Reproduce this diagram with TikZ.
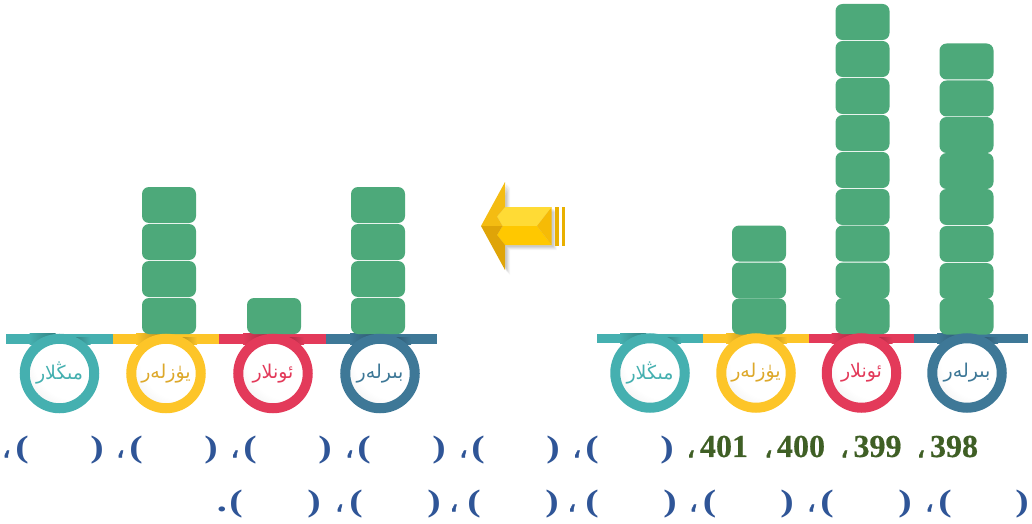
\documentclass[tikz,border=0pt]{standalone}
\usepackage{fontspec}
\setmainfont{Liberation Serif}
\newfontfamily\heavy{Liberation Serif}[BoldFeatures={FakeBold=0.5}]
\newfontfamily\arabicfont[Script=Arabic]{DejaVu Sans}
\newfontfamily\commafont[Script=Arabic,FakeBold=2]{DejaVu Sans}
\TeXXeTstate=1
\definecolor{cgreen}{HTML}{4DA97A}
\definecolor{cteal}{HTML}{45B0B0}
\definecolor{cyellow}{HTML}{FDC528}
\definecolor{cred}{HTML}{E33A5A}
\definecolor{cblue}{HTML}{3E7897}
\definecolor{tgold}{HTML}{DDA82A}
\definecolor{numgreen}{HTML}{3F5F25}
\definecolor{parblue}{HTML}{2F5597}
\definecolor{aA}{HTML}{FFDB35}
\definecolor{aB}{HTML}{FFC800}
\definecolor{aC}{HTML}{F6BB06}
\definecolor{aD}{HTML}{F4BC12}
\definecolor{aE}{HTML}{DFA408}
\definecolor{aF}{HTML}{E9B000}
\pgfdeclareradialshading{discshade}{\pgfpoint{18bp}{18bp}}{color(0bp)=(white); color(30bp)=(white); color(42bp)=(black!7); color(60bp)=(black!30); color(80bp)=(black!35)}
\newcommand{\widen}[1]{\scalebox{1.3}[1]{#1}}
\tikzset{
  cube/.style={fill=cgreen,rounded corners=7pt,minimum width=54pt,minimum height=36pt,inner sep=0pt},
  ring/.style={circle,minimum size=69.5pt,inner sep=0pt,line width=10pt,draw=#1,shading=discshade},
  lbl/.style={font=\arabicfont\fontsize{19}{21}\selectfont,text=#1},
  numtxt/.style={font=\heavy\bfseries\fontsize{32}{34}\selectfont,text=numgreen,inner sep=0pt},
  numcomma/.style={font=\commafont\fontsize{28}{29}\selectfont,text=numgreen,inner sep=0pt},
  par/.style={font=\bfseries\fontsize{31}{33}\selectfont,text=parblue,inner sep=0pt},
  parcomma/.style={font=\commafont\fontsize{28}{29}\selectfont,text=parblue,inner sep=0pt},
}
\newcommand{\barseg}[4]{%
  \fill[#3] (#1,333.5) rectangle (#2,#4);}
\newcommand{\ringshadow}[3]{%
  \shade[left color=#2,right color=#2!72!black] (#1-30,333.5) rectangle (#1-4,#3);
  \shade[left color=#2!72!black,right color=#2] (#1+14,337.5) rectangle (#1+31,#3);}
\begin{document}
\begin{tikzpicture}[x=1pt,y=-1pt]
\useasboundingbox (0,0) rectangle (1032,524);
% bars
\barseg{597}{703}{cteal}{343}
\barseg{703}{808.5}{cyellow}{343}
\barseg{808.5}{914}{cred}{343}
\barseg{914}{1028}{cblue}{343}
\barseg{6}{113}{cteal}{344}
\barseg{113}{219}{cyellow}{344}
\barseg{219}{326}{cred}{344}
\barseg{326}{437}{cblue}{344}
\ringshadow{650}{cteal}{343}
\ringshadow{756}{cyellow}{343}
\ringshadow{861.5}{cred}{343}
\ringshadow{967}{cblue}{343}
\ringshadow{59.5}{cteal}{344}
\ringshadow{166}{cyellow}{344}
\ringshadow{273}{cred}{344}
\ringshadow{380}{cblue}{344}
% right stacks
\foreach \i/\y in {1/243.5,2/280.5,3/316.5}
  \node[cube] (ra\i) at (759,\y) {};
\foreach \i/\y in {1/22,2/59,3/96,4/133,5/170,6/207,7/243.5,8/280.5,9/316}
  \node[cube] (rb\i) at (862.5,\y) {};
\foreach \i/\y in {1/61.5,2/98.5,3/135,4/171,5/207,6/244,7/281,8/316.5}
  \node[cube] (rc\i) at (966.5,\y) {};
% left stacks
\foreach \i/\y in {1/205,2/242,3/279,4/316}
  \node[cube] (la\i) at (169,\y) {};
\node[cube] (lb1) at (274,316) {};
\foreach \i/\y in {1/205,2/242,3/279,4/316}
  \node[cube] (lc\i) at (378,\y) {};
% rings right
\node[ring=cteal,lbl=cteal] (r1) at (650,373) {\beginR مىڭلار\endR};
\node[ring=cyellow,lbl=tgold] (r2) at (756,373) {\beginR يۈزلەر\endR};
\node[ring=cred,lbl=cred] (r3) at (861.5,373) {\beginR ئونلار\endR};
\node[ring=cblue,lbl=cblue] (r4) at (967,373) {\beginR بىرلەر\endR};
% rings left
\node[ring=cteal,lbl=cteal] (l1) at (59.5,373.5) {\beginR مىڭلار\endR};
\node[ring=cyellow,lbl=tgold] (l2) at (166,373.5) {\beginR يۈزلەر\endR};
\node[ring=cred,lbl=cred] (l3) at (273,373.5) {\beginR ئونلار\endR};
\node[ring=cblue,lbl=cblue] (l4) at (380,373.5) {\beginR بىرلەر\endR};
% arrow shadow
\foreach \d/\o in {5/0.04,4/0.05,3/0.06,2/0.07}
  \fill[black,opacity=\o] (481+\d,226+\d) -- (505+\d,182+\d) -- (505+\d,207+\d) -- (551.7+\d,207+\d) -- (551.7+\d,245+\d) -- (505+\d,245+\d) -- (505+\d,270+\d) -- cycle;
% arrow
\fill[aA] (505,207) -- (551.7,207) -- (537,226) -- (502.5,226) -- (497,216.5) -- cycle;
\fill[aB] (502.5,226) -- (537,226) -- (551.7,245) -- (505,245) -- (497,235) -- cycle;
\fill[aC] (551.7,207) -- (551.7,245) -- (537,226) -- cycle;
\fill[aD] (481,226) -- (505,182) -- (505,207) -- (497,216.5) -- (502.5,226) -- cycle;
\fill[aE] (481,226) -- (502.5,226) -- (497,235) -- (505,245) -- (505,270) -- cycle;
\fill[aF] (555,207) rectangle (559.3,245.5);
\fill[aF] (562,207) rectangle (565.3,245.5);
% numbers
\foreach \n/\x in {401/724,400/801,399/877.5,398/954}
  \node[numtxt] (n\n) at (\x,446.5) {\n};
\foreach \i/\x in {1/691,2/768.5,3/844.5,4/921}
  \node[numcomma] (nc\i) at (\x,454) {،};
% row 1
\foreach \i/\c/\a/\b in {1/6.5/22/97,2/120.5/136/211,3/235/250/325,4/349.5/364/439,5/463.5/478/553,6/577/592/667}{
  \node[parcomma] (pc\i) at (\c,454) {،};
  \node[par] (po\i) at (\a,450) {\widen{(}};
  \node[par] (pe\i) at (\b,450) {\widen{)}};
}
% row 2
\foreach \i/\c/\a/\b in {1/693.5/709.5/787,2/811.5/827/905,3/929.5/945/1022,4/572/592/670,5/454/474/552,6/339.5/356/434}{
  \node[parcomma] (qc\i) at (\c,508) {،};
  \node[par] (qo\i) at (\a,504) {\widen{(}};
  \node[par] (qe\i) at (\b,504) {\widen{)}};
}
\node[par] (qd) at (222,509.5) {\widen{.}};
\node[par] (qo7) at (236,504) {\widen{(}};
\node[par] (qe7) at (314,504) {\widen{)}};
\end{tikzpicture}
\end{document}
